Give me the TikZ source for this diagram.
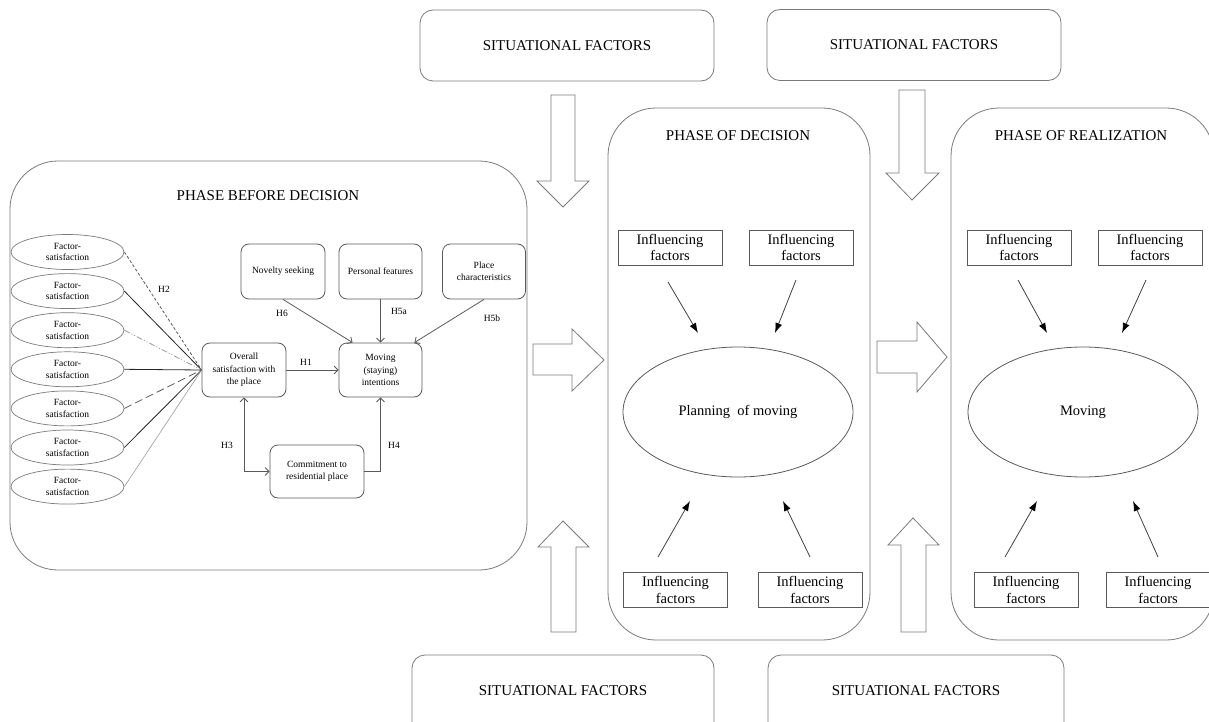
\documentclass[tikz,border=0pt]{standalone}
\usepackage{fontspec}
\setmainfont{Liberation Serif}
\usetikzlibrary{arrows.meta,calc,shapes.geometric}

\definecolor{edge}{HTML}{5A5A5A}
\definecolor{soft}{HTML}{7A7A7A}
\definecolor{light}{HTML}{9A9A9A}

\tikzset{
  sitbox/.style={draw=soft, line width=0.8pt, rounded corners=13pt,
    minimum width=294pt, minimum height=71pt, inner sep=0pt,
    font=\fontsize{15}{18}\selectfont},
  phasebox/.style={draw=soft, line width=0.8pt, rounded corners=48pt, inner sep=0pt},
  phasetitle/.style={font=\fontsize{15}{18}\selectfont, inner sep=0pt},
  infbox/.style={draw=edge, line width=0.8pt, minimum width=104pt, minimum height=35pt,
    inner sep=0pt, align=center, font=\fontsize{14.5}{16.5}\selectfont},
  bigell/.style={ellipse, draw=edge, line width=0.8pt, minimum width=230pt,
    minimum height=130pt, inner sep=0pt, font=\fontsize{14.5}{17}\selectfont},
  factor/.style={ellipse, draw=soft, line width=0.7pt, minimum width=113pt,
    minimum height=35pt, inner sep=0pt, align=center, font=\fontsize{9.5}{11.5}\selectfont},
  smallbox/.style={draw=edge, line width=0.8pt, rounded corners=8pt, inner sep=0pt,
    align=center, font=\fontsize{9.5}{12.3}\selectfont},
  hlabel/.style={font=\fontsize{9.5}{11}\selectfont, inner sep=0pt},
  link/.style={draw=edge, line width=0.8pt},
  barb/.style={link, -{Straight Barb[length=4pt,width=8pt]}},
  barbboth/.style={link, {Straight Barb[length=4pt,width=8pt]}-{Straight Barb[length=4pt,width=8pt]}},
  push/.style={draw=black!75, line width=0.8pt, -{Latex[length=10pt,width=7pt,fill=black,color=black]}},
  blockarrow/.style={draw=soft, line width=0.8pt, fill=white},
}

\begin{document}
\begin{tikzpicture}[x=1pt, y=-1pt]
\useasboundingbox (0,0) rectangle (1209,722);
\clip (0,0) rectangle (1209,722);

% situational factor boxes
\node[sitbox] (sitTL) at (567,45.5) {SITUATIONAL FACTORS};
\node[sitbox] (sitTR) at (914,45) {SITUATIONAL FACTORS};
\node[sitbox, minimum width=302pt, minimum height=80pt] (sitBL) at (563,695) {};
\node[sitbox, minimum width=296pt, minimum height=80pt] (sitBR) at (916,695) {};
\node[phasetitle] (sitBLt) at (563,691) {SITUATIONAL FACTORS};
\node[phasetitle] (sitBRt) at (916,691) {SITUATIONAL FACTORS};

% block arrows between the phases
\draw[blockarrow] (551,95) -- (575,95) -- (575,181) -- (589,181) -- (563,207) -- (537,181) -- (551,181) -- cycle;
\draw[blockarrow] (899,90) -- (925,90) -- (925,173) -- (939,173) -- (912,200) -- (886,173) -- (899,173) -- cycle;
\draw[blockarrow] (533,344) -- (572,344) -- (572,329) -- (604,360) -- (572,391) -- (572,375) -- (533,375) -- cycle;
\draw[blockarrow] (877,341) -- (917,341) -- (917,322) -- (947,357) -- (917,392) -- (917,373) -- (877,373) -- cycle;
\draw[blockarrow] (551,632) -- (576,632) -- (576,547) -- (589,547) -- (563,521) -- (538,547) -- (551,547) -- cycle;
\draw[blockarrow] (901,632) -- (926,632) -- (926,545) -- (939,545) -- (913,518) -- (888,545) -- (901,545) -- cycle;

% phase before decision
\node[phasebox, minimum width=517pt, minimum height=409pt] (before) at (268.5,365.5) {};
\node[phasetitle] (beforeT) at (268,196) {PHASE BEFORE DECISION};

\foreach \i in {1,...,7} {
  \node[factor] (f\i) at (67.5,{252+39.1*(\i-1)}) {Factor-\\satisfaction};
}

\node[smallbox, minimum width=84pt, minimum height=54pt] (overall) at (244,370) {Overall\\satisfaction with\\the place};
\node[smallbox, minimum width=83pt, minimum height=54pt] (moving) at (380.5,370) {Moving\\(staying)\\intentions};
\node[smallbox, minimum width=84pt, minimum height=55pt] (novelty) at (283,271.5) {Novelty seeking};
\node[smallbox, minimum width=83pt, minimum height=55pt] (personal) at (380.5,271.5) {Personal features};
\node[smallbox, minimum width=83pt, minimum height=55pt] (place) at (484,271.5) {Place\\characteristics};
\node[smallbox, minimum width=94pt, minimum height=53pt] (commit) at (317,471.5) {Commitment to\\residential place};

% satisfaction factors feeding overall satisfaction
\draw[link, dash pattern=on 3pt off 2pt] (f1.east) -- (overall.west);
\draw[link, draw=black!85] (f2.east) -- (overall.west);
\draw[link, draw=light, dash pattern=on 6pt off 2pt on 1pt off 2pt on 1pt off 2pt] (f3.east) -- (overall.west);
\draw[link, draw=black!85] (f4.east) -- (overall.west);
\draw[link, dash pattern=on 8pt off 4pt] (f5.east) -- (overall.west);
\draw[link, draw=black!85] (f6.east) -- (overall.west);
\draw[link, draw=light, line width=0.6pt] (f7.east) -- (overall.west);
\node[hlabel] (h2) at (164,289) {H2};

% hypotheses
\draw[barb] (overall.east) -- (moving.west);
\node[hlabel] (h1) at (306,362) {H1};
\draw[barb] (novelty.south) -- ($(moving.north west)+(14,0)$);
\node[hlabel] (h6) at (282,313) {H6};
\draw[barb] (personal.south) -- (moving.north);
\node[hlabel] (h5a) at (399,311) {H5a};
\draw[barb] (place.south) -- ($(moving.north east)+(-8,0)$);
\node[hlabel] (h5b) at (492,318) {H5b};
\draw[barbboth] (overall.south) |- (commit.west);
\node[hlabel] (h3) at (227,445) {H3};
\draw[barb] (commit.east) -| (moving.south);
\node[hlabel] (h4) at (394,445) {H4};

% phase of decision
\node[phasebox, minimum width=262pt, minimum height=532pt] (decision) at (739,374) {};
\node[phasetitle] (decisionT) at (738,136) {PHASE OF DECISION};
\node[infbox] (dTL) at (670,247.5) {Influencing\\factors};
\node[infbox] (dTR) at (801,247.5) {Influencing\\factors};
\node[infbox] (dBL) at (675.5,590) {Influencing\\factors};
\node[infbox] (dBR) at (810,590) {Influencing\\factors};
\node[bigell] (plan) at (738,412) {Planning\ \ of moving};
\coordinate (dTLa) at (668,282);
\coordinate (dTRa) at (796,280);
\coordinate (dBLa) at (658,557);
\coordinate (dBRa) at (810,557);
\draw[push] (dTLa) -- (698,333);
\draw[push] (dTRa) -- (775,333);
\draw[push] (dBLa) -- (690,501);
\draw[push] (dBRa) -- (783,501);

% phase of realization
\node[phasebox, minimum width=263pt, minimum height=532pt] (realization) at (1082.5,374) {};
\node[phasetitle] (realizationT) at (1081,136) {PHASE OF REALIZATION};
\node[infbox] (rTL) at (1019,247.5) {Influencing\\factors};
\node[infbox] (rTR) at (1150,247.5) {Influencing\\factors};
\node[infbox] (rBL) at (1026,590) {Influencing\\factors};
\node[infbox] (rBR) at (1158,590) {Influencing\\factors};
\node[bigell] (move) at (1083,412) {Moving};
\coordinate (rTLa) at (1018,280);
\coordinate (rTRa) at (1146,280);
\coordinate (rBLa) at (1005,557);
\coordinate (rBRa) at (1158,557);
\draw[push] (rTLa) -- (1047,333);
\draw[push] (rTRa) -- (1122,333);
\draw[push] (rBLa) -- (1037,501);
\draw[push] (rBRa) -- (1133,501);
\end{tikzpicture}
\end{document}
